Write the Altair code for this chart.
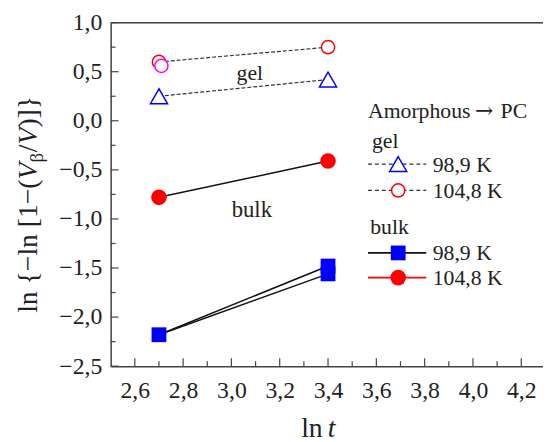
import altair as alt
import pandas as pd

# ---- data ----
ln_t = [2.7, 3.4]
gel_989 = [0.25, 0.42]          # open blue triangles
gel_1048 = [0.60, 0.75]         # open red circles
gel_1048_extra_x = [2.71]       # extra open magenta circle
gel_1048_extra_y = [0.56]
bulk_1048 = [-0.78, -0.41]      # filled red circles
bulk_989_a = [-2.18, -1.48]     # filled blue squares, two runs sharing the first point
bulk_989_b = [-2.18, -1.56]

x_major = [2.6, 2.8, 3.0, 3.2, 3.4, 3.6, 3.8, 4.0, 4.2]
x_minor = [2.7, 2.9, 3.1, 3.3, 3.5, 3.7, 3.9, 4.1]
y_major = [-2.5, -2.0, -1.5, -1.0, -0.5, 0.0, 0.5, 1.0]
y_minor = [-2.25, -1.75, -1.25, -0.75, -0.25, 0.25, 0.75]

legend_title = ["Amorphous", "\u2192", "PC"]
legend_groups = ["gel", "bulk"]
legend_labels = ["98,9 K", "104,8 K", "98,9 K", "104,8 K"]

W, H = 438, 348
FONT = "Liberation Serif"
TXT = "#222222"
AX = "#444444"

XS = alt.Scale(domain=[2.5, 4.29], nice=False, zero=False)
YS = alt.Scale(domain=[-2.5, 1.0], nice=False, zero=False)

def df_xy(xs, ys, name):
    return pd.DataFrame({"x": xs, "y": ys, "s": [name] * len(xs)})

gel_lines = pd.concat([df_xy(ln_t, gel_989, "g989"), df_xy(ln_t, gel_1048, "g1048")])
bulk_lines = pd.concat([df_xy(ln_t, bulk_1048, "b1048"),
                        df_xy(ln_t, bulk_989_a, "b989a"),
                        df_xy(ln_t, bulk_989_b, "b989b")])

lab_x = "replace(format(datum.value, '.1f'), '.', ',')"
lab_y = "replace(replace(format(datum.value, '.1f'), '.', ','), '-', '\u2212')"

x_axis = alt.Axis(values=x_major, labelExpr=lab_x, ticks=False, grid=False, title=None,
                  domainColor=AX, domainWidth=1.5, labelFont=FONT, labelFontSize=24,
                  labelColor=TXT, labelPadding=13)
y_axis = alt.Axis(values=y_major, labelExpr=lab_y, ticks=False, grid=False, title=None,
                  domainColor=AX, domainWidth=1.5, labelFont=FONT, labelFontSize=24,
                  labelColor=TXT, labelPadding=9)

def X():
    return alt.X("x:Q", scale=XS, axis=x_axis)

def Y():
    return alt.Y("y:Q", scale=YS, axis=y_axis)

gel_layer = alt.Chart(gel_lines).mark_line(color="#333333", strokeWidth=1.2, strokeDash=[4, 2]).encode(
    x=X(), y=Y(), detail="s:N")
bulk_layer = alt.Chart(bulk_lines).mark_line(color="#111111", strokeWidth=1.5).encode(
    x=X(), y=Y(), detail="s:N")

def pts(xs, ys, shape, color, filled, size):
    d = pd.DataFrame({"x": xs, "y": ys})
    if filled:
        m = alt.Chart(d).mark_point(shape=shape, filled=True, color=color, size=size, opacity=1)
    else:
        m = alt.Chart(d).mark_point(shape=shape, filled=False, stroke=color, fill="white",
                                    fillOpacity=1, strokeWidth=1.5, size=size, opacity=1)
    return m.encode(x=X(), y=Y())

p_g989 = pts(ln_t, gel_989, "triangle-up", "#0000ff", False, 300)
p_g1048 = pts(ln_t, gel_1048, "circle", "#ff0000", False, 180)
p_gx = pts(gel_1048_extra_x, gel_1048_extra_y, "circle", "#ff00ff", False, 180)
p_b1048 = pts(ln_t, bulk_1048, "circle", "#ff0000", True, 250)
p_b989 = pts([ln_t[0], ln_t[1], ln_t[1]], [bulk_989_a[0], bulk_989_a[1], bulk_989_b[1]],
             "square", "#0000ff", True, 225)

# inward ticks
def ticks_x(vals, length):
    return alt.Chart(pd.DataFrame({"x": vals})).mark_rule(color=AX, strokeWidth=1.2).encode(
        x=X(), y=alt.value(H), y2=alt.value(H - length))

def ticks_y(vals, length):
    return alt.Chart(pd.DataFrame({"y": vals})).mark_rule(color=AX, strokeWidth=1.2).encode(
        y=Y(), x=alt.value(0), x2=alt.value(length))

one = pd.DataFrame({"k": [0]})
top_border = alt.Chart(one).mark_rule(color=AX, strokeWidth=1.5).encode(
    x=alt.value(0), x2=alt.value(W + 20), y=alt.value(0))

def txt(text, x, y, size=22, align="left", baseline="alphabetic", style="normal", angle=0, font=FONT):
    return alt.Chart(one).mark_text(text=text, font=font, fontSize=size, color=TXT, align=align,
                                    baseline=baseline, fontStyle=style, angle=angle).encode(
        x=alt.value(x), y=alt.value(y))

# annotations in plot
ann_gel = txt("gel", 141, 58, size=22, align="center")
ann_bulk = txt("bulk", 143, 197, size=23, align="center")

# axis titles
xt1 = txt("ln", 193, 420, size=28)
xt2 = txt("t", 220, 420, size=28, style="italic")
BX = -75
Y0 = 294
yt = [
    txt("ln {\u2212ln [1\u2212(", BX, Y0, size=28, angle=270),
    txt("V", BX, Y0 - 135.2, size=28, angle=270, style="italic"),
    txt("\u03b2", BX + 6, Y0 - 152.3, size=19, angle=270),
    txt("/", BX, Y0 - 162.8, size=28, angle=270),
    txt("V", BX, Y0 - 170.6, size=28, angle=270, style="italic"),
    txt(")]}", BX, Y0 - 187.7, size=28, angle=270),
]

# legend
LX0, LX1, MX, TX = 260.7, 319.7, 291.3, 326.3
leg = [txt(legend_title[0], LX0, 97, size=22),
       txt(legend_title[1], 369, 97, size=22, font="DejaVu Serif"),
       txt(legend_title[2], 395, 97, size=22),
       txt(legend_groups[0], 264.7, 127, size=22),
       txt(legend_groups[1], 263, 214, size=22)]
rows = [(143.3, 151, "dash", "#333333", "triangle-up", "#0000ff", False, 300),
        (170.0, 177.3, "dash", "#333333", "circle", "#ff0000", False, 180),
        (233.3, 240.7, "solid", "#111111", "square", "#0000ff", True, 225),
        (258.3, 266.0, "solid", "#ff0000", "circle", "#ff0000", True, 250)]
for i, (ly, tb, ls, lc, shp, mc, filled, sz) in enumerate(rows):
    kw = dict(color=lc, strokeWidth=1.2 if ls == "dash" else 1.8)
    if ls == "dash":
        kw["strokeDash"] = [4, 3]
    leg.append(alt.Chart(one).mark_rule(**kw).encode(
        x=alt.value(LX0), x2=alt.value(LX1), y=alt.value(ly)))
    if filled:
        mk = alt.Chart(one).mark_point(shape=shp, filled=True, color=mc, size=sz, opacity=1)
    else:
        mk = alt.Chart(one).mark_point(shape=shp, filled=False, stroke=mc, fill="white",
                                       fillOpacity=1, strokeWidth=1.5, size=sz, opacity=1)
    leg.append(mk.encode(x=alt.value(MX), y=alt.value(ly)))
    leg.append(txt(legend_labels[i], TX, tb, size=22))

chart = alt.layer(
    gel_layer, bulk_layer,
    ticks_x(x_major, 8), ticks_x(x_minor, 5), ticks_y(y_major, 8), ticks_y(y_minor, 5),
    top_border,
    p_g989, p_g1048, p_gx, p_b1048, p_b989,
    ann_gel, ann_bulk, xt1, xt2, *yt, *leg,
).properties(
    width=W, height=H,
    autosize=alt.AutoSizeParams(type="none"),
    padding={"left": 104, "top": 12, "right": 0, "bottom": 74},
).configure_view(stroke=None).configure(background="white").configure_axis(
    labelFont=FONT, labelFontSize=24, labelColor=TXT
)

chart.save("out.html", embed_options={"renderer": "svg", "actions": False})
